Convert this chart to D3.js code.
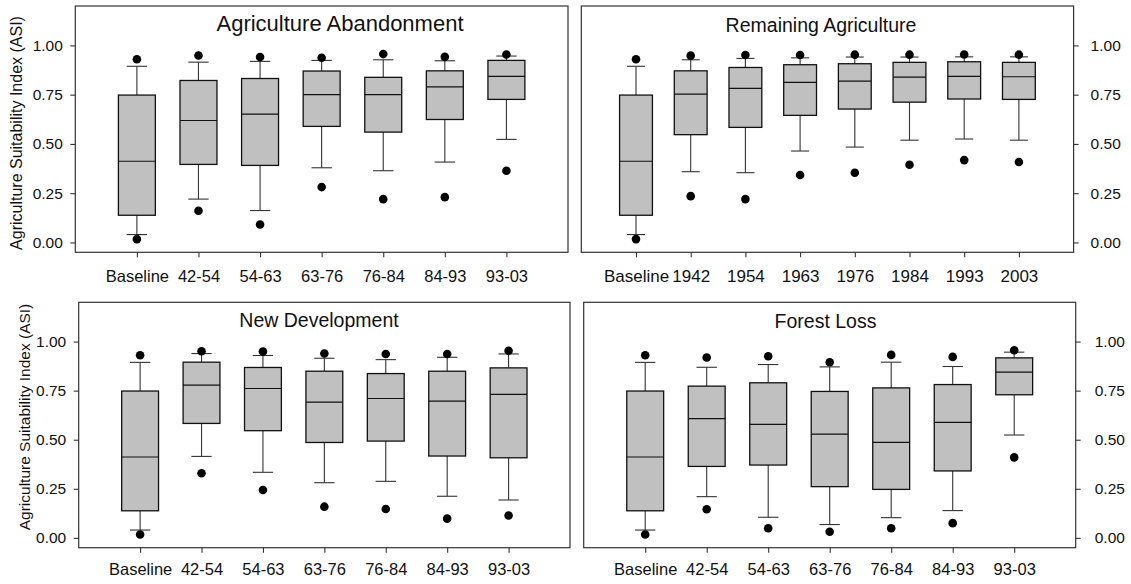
<!DOCTYPE html>
<html>
<head>
<meta charset="utf-8">
<script src="https://cdn.jsdelivr.net/npm/d3@7"></script>
<style>
  body { margin: 0; background: #fff; }
  svg text { font-family: "Liberation Sans", Arial, sans-serif; fill: #111; }
</style>
</head>
<body>
<svg id="chart" width="1131" height="584"></svg>
<script>
// categories
const periods = ["Baseline", "42-54", "54-63", "63-76", "76-84", "84-93", "93-03"];
const years = ["Baseline", "1942", "1954", "1963", "1976", "1984", "1993", "2003"];
const yTicks = [0, 0.25, 0.5, 0.75, 1.0];

// each row: [lowWhisker, q1, median, q3, highWhisker, lowOutlier, highOutlier]
const abandonment = [
    [0.040, 0.138, 0.412, 0.748, 0.894, 0.017, 0.930],
    [0.220, 0.396, 0.619, 0.822, 0.915, 0.161, 0.949],
    [0.162, 0.391, 0.651, 0.832, 0.919, 0.091, 0.941],
    [0.379, 0.589, 0.750, 0.870, 0.924, 0.281, 0.937],
    [0.364, 0.560, 0.750, 0.838, 0.927, 0.220, 0.956],
    [0.408, 0.624, 0.790, 0.871, 0.922, 0.230, 0.942],
    [0.523, 0.726, 0.843, 0.924, 0.946, 0.364, 0.954]
];
const remaining = [
    [0.040, 0.138, 0.412, 0.748, 0.894, 0.017, 0.930],
    [0.359, 0.547, 0.753, 0.871, 0.927, 0.235, 0.948],
    [0.354, 0.584, 0.782, 0.888, 0.934, 0.220, 0.951],
    [0.464, 0.645, 0.812, 0.902, 0.937, 0.342, 0.951],
    [0.484, 0.677, 0.819, 0.907, 0.941, 0.354, 0.953],
    [0.519, 0.712, 0.839, 0.914, 0.941, 0.394, 0.953],
    [0.525, 0.728, 0.843, 0.917, 0.942, 0.418, 0.954],
    [0.519, 0.726, 0.841, 0.914, 0.942, 0.408, 0.953]
];
const development = [
    [0.040, 0.138, 0.412, 0.748, 0.894, 0.017, 0.930],
    [0.415, 0.583, 0.778, 0.895, 0.939, 0.329, 0.951],
    [0.334, 0.546, 0.761, 0.868, 0.929, 0.244, 0.949],
    [0.281, 0.486, 0.692, 0.849, 0.915, 0.159, 0.939],
    [0.288, 0.493, 0.710, 0.837, 0.908, 0.147, 0.937],
    [0.212, 0.417, 0.697, 0.849, 0.920, 0.098, 0.937],
    [0.193, 0.408, 0.731, 0.866, 0.937, 0.114, 0.953]
];
const forestLoss = [
    [0.040, 0.138, 0.412, 0.748, 0.894, 0.017, 0.930],
    [0.210, 0.364, 0.607, 0.773, 0.869, 0.146, 0.919],
    [0.105, 0.371, 0.578, 0.790, 0.883, 0.049, 0.925],
    [0.068, 0.261, 0.529, 0.746, 0.871, 0.031, 0.895],
    [0.103, 0.247, 0.486, 0.764, 0.895, 0.049, 0.932],
    [0.139, 0.341, 0.588, 0.781, 0.873, 0.075, 0.922],
    [0.524, 0.729, 0.844, 0.917, 0.946, 0.410, 0.956]
];

const svg = d3.select("#chart");
const yLabel = "Agriculture Suitability Index (ASI)";

const panels = [
    {title: "Agriculture Abandonment", cats: periods, rows: abandonment,
     left: 75.3, right: 568, top: 6, bottom: 252.3, side: "left",
     titleX: 340, titleY: 31, titleSize: 22, labelX: 21.5, labelY: 133, labelSize: 16,
     tickPad: 7.5, xPad: 13, xFont: 16.5},
    {title: "Remaining Agriculture", cats: years, rows: remaining,
     left: 581.3, right: 1073.6, top: 6, bottom: 252.3, side: "right",
     titleX: 821, titleY: 31.5, titleSize: 19.5, tickPad: 12, xPad: 13, xFont: 17},
    {title: "New Development", cats: periods, rows: development,
     left: 78.7, right: 570, top: 302.3, bottom: 547.7, side: "left",
     titleX: 319, titleY: 327, titleSize: 19.5, labelX: 29.5, labelY: 417, labelSize: 15.5,
     tickPad: 7.5, xPad: 11, xFont: 16.5},
    {title: "Forest Loss", cats: periods, rows: forestLoss,
     left: 583.7, right: 1075.7, top: 302.3, bottom: 547.7, side: "right",
     titleX: 825.5, titleY: 328, titleSize: 19.5, tickPad: 14, xPad: 11, xFont: 16.5}
];

panels.forEach(drawPanel);

function drawPanel(p) {
    const g = svg.append("g");

    const x = d3.scalePoint()
        .domain(p.cats)
        .range([p.left, p.right])
        .padding(1);
    const y = d3.scaleLinear()
        .domain([-0.05, 1.2])
        .range([p.bottom, p.top]);

    const step = x.step();
    const boxW = step * 0.6;
    const capW = step * 0.33;

    // frame
    g.append("rect")
        .attr("x", p.left).attr("y", p.top)
        .attr("width", p.right - p.left).attr("height", p.bottom - p.top)
        .attr("fill", "none")
        .attr("stroke", "#333")
        .attr("stroke-width", 1.2);

    // y axis
    const yAxis = (p.side === "left" ? d3.axisLeft(y) : d3.axisRight(y))
        .tickValues(yTicks)
        .tickFormat(d3.format(".2f"))
        .tickSize(5)
        .tickPadding(p.tickPad);
    const ya = g.append("g")
        .attr("transform", `translate(${p.side === "left" ? p.left : p.right},0)`)
        .call(yAxis);
    styleAxis(ya, 15.5);

    // x axis
    const xa = g.append("g")
        .attr("transform", `translate(0,${p.bottom})`)
        .call(d3.axisBottom(x).tickSize(5).tickPadding(p.xPad));
    styleAxis(xa, p.xFont);

    // title
    g.append("text")
        .attr("x", p.titleX).attr("y", p.titleY)
        .attr("text-anchor", "middle")
        .style("font-size", p.titleSize + "px")
        .text(p.title);

    if (p.side === "left") {
        g.append("text")
            .attr("transform", `translate(${p.labelX},${p.labelY}) rotate(-90)`)
            .attr("text-anchor", "middle")
            .style("font-size", p.labelSize + "px")
            .text(yLabel);
    }

    const boxes = g.selectAll(".box")
        .data(p.rows.map((r, i) => ({cat: p.cats[i], r: r})))
        .enter().append("g")
        .attr("class", "box");

    // whiskers
    boxes.append("line")
        .attr("x1", d => x(d.cat)).attr("x2", d => x(d.cat))
        .attr("y1", d => y(d.r[0])).attr("y2", d => y(d.r[1]))
        .attr("stroke", "#333").attr("stroke-width", 1.1);
    boxes.append("line")
        .attr("x1", d => x(d.cat)).attr("x2", d => x(d.cat))
        .attr("y1", d => y(d.r[3])).attr("y2", d => y(d.r[4]))
        .attr("stroke", "#333").attr("stroke-width", 1.1);
    [0, 4].forEach(k => {
        boxes.append("line")
            .attr("x1", d => x(d.cat) - capW / 2).attr("x2", d => x(d.cat) + capW / 2)
            .attr("y1", d => y(d.r[k])).attr("y2", d => y(d.r[k]))
            .attr("stroke", "#333").attr("stroke-width", 1.1);
    });

    // box
    boxes.append("rect")
        .attr("x", d => x(d.cat) - boxW / 2)
        .attr("width", boxW)
        .attr("y", d => y(d.r[3]))
        .attr("height", d => y(d.r[1]) - y(d.r[3]))
        .attr("fill", "#c0c0c0")
        .attr("stroke", "#111")
        .attr("stroke-width", 1.3);

    // median
    boxes.append("line")
        .attr("x1", d => x(d.cat) - boxW / 2).attr("x2", d => x(d.cat) + boxW / 2)
        .attr("y1", d => y(d.r[2])).attr("y2", d => y(d.r[2]))
        .attr("stroke", "#111").attr("stroke-width", 1.2);

    // outliers
    [5, 6].forEach(k => {
        boxes.append("circle")
            .attr("cx", d => x(d.cat))
            .attr("cy", d => y(d.r[k]))
            .attr("r", 4.3)
            .attr("fill", "#000");
    });
}

function styleAxis(a, size) {
    a.select(".domain").remove();
    a.selectAll(".tick line").attr("stroke", "#333").attr("stroke-width", 1.1);
    a.selectAll(".tick text")
        .style("font-size", size + "px")
        .style("font-family", "'Liberation Sans', Arial, sans-serif")
        .attr("fill", "#111");
}
</script>
</body>
</html>
